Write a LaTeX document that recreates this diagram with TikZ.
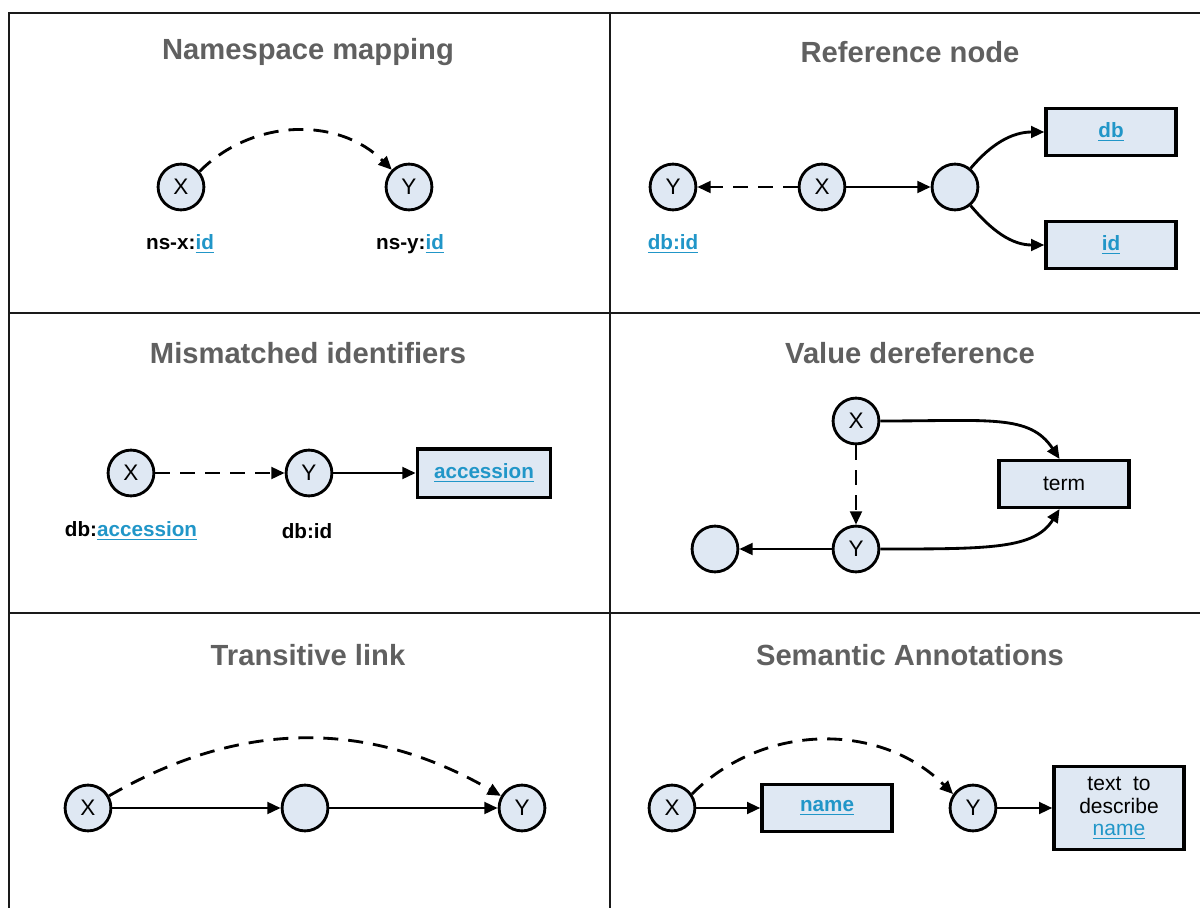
\documentclass[tikz,border=0pt]{standalone}
\usepackage{fontspec}
\setmainfont{Liberation Sans}
\usepackage{xcolor}
\usetikzlibrary{arrows.meta,positioning}
\definecolor{frame}{HTML}{1A1A1A}
\definecolor{title}{HTML}{606060}
\definecolor{fillb}{HTML}{DFE8F3}
\definecolor{link}{HTML}{2196C8}
\newcommand{\lnk}[1]{\textcolor{link}{\underline{#1}}}
\tikzset{
  grid/.style={draw=frame, line width=1.2pt},
  ttl/.style={text=title, font=\fontsize{17.5}{20}\selectfont\bfseries},
  ent/.style={circle, draw=black, fill=fillb, line width=1.7pt, minimum size=27.5pt, inner sep=0pt, font=\fontsize{13.5}{15}\selectfont},
  val/.style={rectangle, draw=black, fill=fillb, line width=2pt, minimum width=78pt, minimum height=28pt, inner sep=2pt, font=\fontsize{12.4}{14}\selectfont\bfseries},
  plain/.style={font=\fontsize{12.6}{13.4}\selectfont},
  lab/.style={font=\fontsize{12.4}{14}\selectfont\bfseries},
  rel/.style={draw=black, line width=1.7pt, -{Triangle[length=8pt,width=7pt]}},
  maps/.style={rel, dash pattern=on 9pt off 6pt},
}

\begin{document}
\begin{tikzpicture}[x=0.6pt,y=0.6pt]
  \useasboundingbox (0,0) rectangle (1200,-908);
  % panel grid
  \draw[grid] (1200,-13) -| (9,-908);
  \draw[grid] (610,-13) -- (610,-908);
  \draw[grid] (9,-313) -- (1200,-313);
  \draw[grid] (9,-613) -- (1200,-613);

  % namespace mapping
  \node[ttl] (t1) at (308,-52) {Namespace mapping};
  \node[ent] (nsx) at (181,-187) {X};
  \node[ent] (nsy) at (409,-187) {Y};
  \node[lab] (nsxl) at (180,-244) {ns-x:\lnk{id}};
  \node[lab] (nsyl) at (410,-244) {ns-y:\lnk{id}};
  \draw[maps] (nsx.40) to[out=45,in=135] (nsy.135);

  % reference node
  \node[ttl] (t2) at (910,-52) {Reference node};
  \node[ent] (ry) at (673,-187) {Y};
  \node[ent] (rx) at (822,-187) {X};
  \node[ent] (rn) at (955,-187) {};
  \node[val] (rdb) at (1111,-132) {\lnk{db}};
  \node[val] (rid) at (1111,-245) {\lnk{id}};
  \node[lab] (ryl) at (673,-244) {\lnk{db:id}};
  \draw[maps] (rx) -- (ry);
  \draw[rel] (rx) -- (rn);
  \draw[rel] (rn.50) to[out=50,in=180] (rdb.west);
  \draw[rel] (rn.-50) to[out=-50,in=180] (rid.west);

  % mismatched identifiers
  \node[ttl] (t3) at (308,-353) {Mismatched identifiers};
  \node[ent] (mx) at (131,-473) {X};
  \node[ent] (my) at (309,-473) {Y};
  \node[val, minimum width=80pt, minimum height=29pt] (macc) at (484,-473) {\lnk{accession}};
  \node[lab] (mxl) at (131,-531) {db:\lnk{accession}};
  \node[lab] (myl) at (307,-531) {db:id};
  \draw[maps] (mx) -- (my);
  \draw[rel] (my) -- (macc);

  % value dereference
  \node[ttl] (t4) at (910,-353) {Value dereference};
  \node[ent] (vx) at (856,-421) {X};
  \node[ent] (vy) at (856,-549) {Y};
  \node[ent] (vn) at (715,-549) {};
  \node[val, plain] (vterm) at (1064,-484) {term};
  \draw[maps] (vx) -- (vy);
  \draw[rel] (vy) -- (vn);
  \draw[rel] (vx.east) .. controls +(110,0) and +(-30,45) .. (vterm.100);
  \draw[rel] (vy.east) .. controls +(110,0) and +(-25,-40) .. (vterm.-100);

  % transitive link
  \node[ttl] (t5) at (308,-655) {Transitive link};
  \node[ent] (tx) at (88,-808) {X};
  \node[ent] (tn) at (305,-808) {};
  \node[ent] (ty) at (522,-808) {Y};
  \draw[rel] (tx) -- (tn);
  \draw[rel] (tn) -- (ty);
  \draw[maps] (tx.30) to[out=30,in=150] (ty.150);

  % semantic annotations
  \node[ttl] (t6) at (910,-655) {Semantic Annotations};
  \node[ent] (sx) at (672,-808) {X};
  \node[val] (sname) at (827,-808) {\lnk{name}};
  \node[ent] (sy) at (973,-808) {Y};
  \node[val, plain, minimum height=50pt, align=center] (sdesc) at (1119,-808) {text\ \ to\\describe\\\lnk{name}};
  \draw[rel] (sx) -- (sname);
  \draw[rel] (sy) -- (sdesc);
  \draw[maps] (sx.35) to[out=45,in=135] (sy.145);
\end{tikzpicture}
\end{document}
